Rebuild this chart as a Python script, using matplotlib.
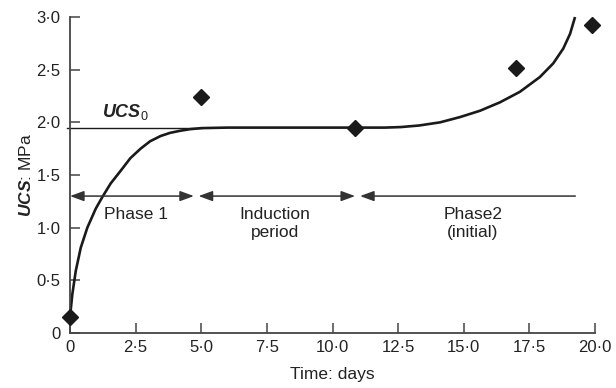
import matplotlib
matplotlib.use("Agg")
import matplotlib.pyplot as plt
from matplotlib.ticker import FixedLocator, FixedFormatter

plt.rcParams['font.family'] = ['Liberation Sans', 'DejaVu Sans']
plt.rcParams['mathtext.fontset'] = 'custom'
plt.rcParams['mathtext.it'] = 'Liberation Sans:italic:bold'
plt.rcParams['mathtext.rm'] = 'Liberation Sans'
plt.rcParams['mathtext.bf'] = 'Liberation Sans:bold'

# Measured data points (diamonds)
time_days = [0.0, 5.0, 10.85, 17.0, 19.9]
ucs_mpa = [0.15, 2.24, 1.95, 2.52, 2.92]

# Fitted curve
curve_t = [0.0, 0.04, 0.09, 0.22, 0.41, 0.66, 0.98, 1.23, 1.55, 1.93, 2.3, 2.69,
           3.05, 3.45, 3.81, 4.2, 4.57, 5.0, 6.0, 10.86, 12.0, 12.6, 13.3, 14.1,
           14.86, 15.62, 16.38, 17.14, 17.9, 18.41, 18.79, 19.05, 19.24]
curve_ucs = [0.15, 0.25, 0.37, 0.59, 0.81, 1.00, 1.18, 1.29, 1.42, 1.54, 1.66, 1.75,
             1.82, 1.87, 1.90, 1.92, 1.935, 1.945, 1.95, 1.95, 1.95, 1.955, 1.97, 2.0,
             2.05, 2.11, 2.19, 2.29, 2.43, 2.56, 2.70, 2.84, 3.0]

ucs0 = 1.95
ucs0_span = [-0.12, 5.0]

# Phase arrows: (start, end, both heads?)
arrow_y = 1.3
phase_spans = [(0.0, 4.72, True), (4.9, 10.86, True), (11.05, 19.25, False)]
phase_labels = ["Phase 1", "Induction\nperiod", "Phase2\n(initial)"]
phase_label_x = [2.5, 7.8, 15.35]

xticks = [0, 2.5, 5, 7.5, 10, 12.5, 15, 17.5, 20]
xticklabels = ["0", "2·5", "5·0", "7·5", "10·0", "12·5", "15·0", "17·5", "20·0"]
yticks = [0, 0.5, 1.0, 1.5, 2.0, 2.5, 3.0]
yticklabels = ["0", "0·5", "1·0", "1·5", "2·0", "2·5", "3·0"]

fig = plt.figure(figsize=(6.16, 3.88), dpi=100)
ax = fig.add_axes([70/616, 1-333/388, (595-70)/616, (333-17)/388])

ax.plot(curve_t, curve_ucs, color='#1a1a1a', lw=1.9, solid_capstyle='butt',
        solid_joinstyle='round', clip_on=False)
ax.plot(ucs0_span, [ucs0, ucs0], color='#1a1a1a', lw=1.0, clip_on=False)
ax.plot(time_days, ucs_mpa, linestyle='none', marker='D', ms=8.2, color='#1a1a1a',
        clip_on=False, zorder=5)

for (a, b, both), lab, lx in zip(phase_spans, phase_labels, phase_label_x):
    style = '<|-|>' if both else '<|-'
    ax.annotate('', xy=(b, arrow_y), xytext=(a, arrow_y),
                arrowprops=dict(arrowstyle=style + ',head_length=0.6,head_width=0.22',
                                color='#333333', lw=1.1, shrinkA=0, shrinkB=0,
                                mutation_scale=14))
    ax.text(lx, arrow_y - 0.1, lab, ha='center', va='top', fontsize=12.5,
            color='#222222', linespacing=1.25)

ax.text(1.22, ucs0 + 0.05, r'$UCS_{\mathrm{0}}$', fontsize=13, color='#222222',
        ha='left', va='bottom')

ax.set_xlim(0, 20)
ax.set_ylim(0, 3.0)
ax.xaxis.set_major_locator(FixedLocator(xticks))
ax.xaxis.set_major_formatter(FixedFormatter(xticklabels))
ax.yaxis.set_major_locator(FixedLocator(yticks))
ax.yaxis.set_major_formatter(FixedFormatter(yticklabels))

for s in ['top', 'right']:
    ax.spines[s].set_visible(False)
for s in ['left', 'bottom']:
    ax.spines[s].set_color('#444444')
    ax.spines[s].set_linewidth(1.3)

ax.tick_params(direction='in', length=7, width=1.1, color='#444444',
               labelsize=12, labelcolor='#222222')
ax.tick_params(axis='y', pad=7)
ax.tick_params(axis='x', pad=5)

ax.set_xlabel('Time: days', fontsize=12.5, color='#222222')
ax.set_ylabel(r'$UCS$: MPa', fontsize=12.5, color='#222222')
ax.xaxis.set_label_coords(0.5, -0.108)
ax.yaxis.set_label_coords(-0.068, 0.5)

fig.savefig('out.png', dpi=100)
